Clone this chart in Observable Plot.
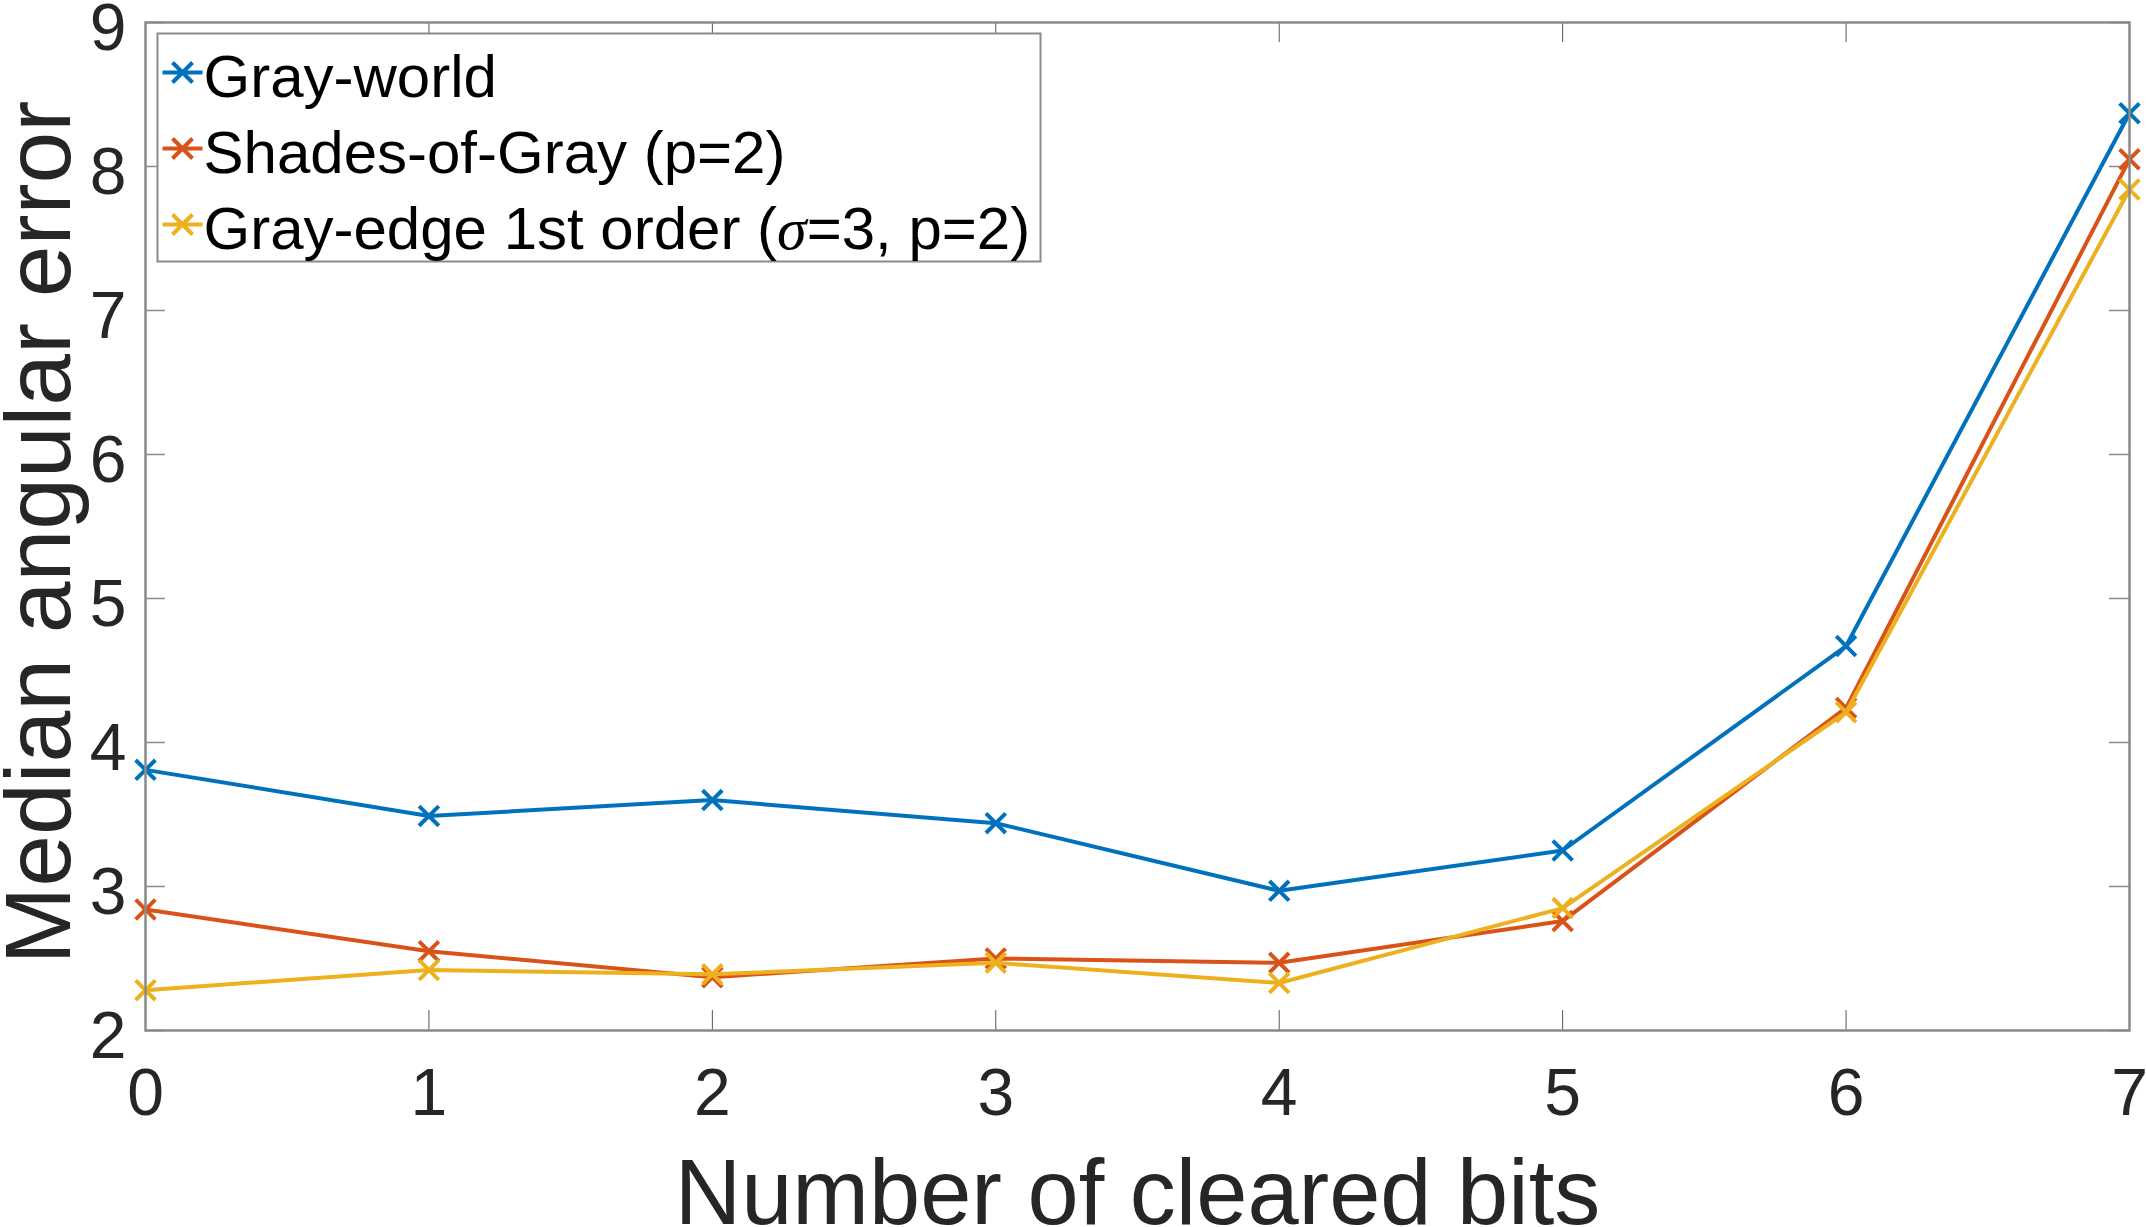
<!DOCTYPE html>
<html>
<head>
<meta charset="utf-8">
<script src="https://cdn.jsdelivr.net/npm/d3@7"></script>
<script src="https://cdn.jsdelivr.net/npm/@observablehq/plot@0.6"></script>
<style>
  html, body { margin: 0; padding: 0; background: #fff; }
  #chart svg { display: block; }
</style>
</head>
<body>
<div id="chart"></div>
<script>
// ---- data ----
const bits = [0, 1, 2, 3, 4, 5, 6, 7];
const xTicks = [0, 1, 2, 3, 4, 5, 6, 7];
const yTicks = [2, 3, 4, 5, 6, 7, 8, 9];
const seriesNames = ["Gray-world", "Shades-of-Gray (p=2)", "Gray-edge 1st order (σ=3, p=2)"];
const grayWorld = [3.81, 3.49, 3.60, 3.44, 2.97, 3.25, 4.67, 8.37];
const shadesOfGray = [2.84, 2.55, 2.37, 2.50, 2.47, 2.76, 4.24, 8.05];
const grayEdge = [2.28, 2.42, 2.39, 2.47, 2.33, 2.85, 4.21, 7.84];
const seriesColors = ["#0072BD", "#D95319", "#EDB120"];
const xLabel = "Number of cleared bits";
const yLabel = "Median angular error";

const seriesValues = [grayWorld, shadesOfGray, grayEdge];
const table = seriesNames.flatMap((name, s) =>
  bits.map((b, i) => ({series: name, bits: b, value: seriesValues[s][i]}))
);

// ---- layout ----
const W = 2146, H = 1227;
const mL = 145, mR = 17, mT = 22, mB = 197;
const plotW = W - mL - mR, plotH = H - mT - mB;
const tickLen = 20;
const font = "'Liberation Sans', Arial, Helvetica, sans-serif";
const axisGray = "#8a8a8a";
const textDark = "#262626";
const intFmt = d3.format("d");

const legendSymbol = {
  draw(ctx) {
    ctx.moveTo(-20, 0); ctx.lineTo(20, 0);
    ctx.moveTo(-10, -10); ctx.lineTo(10, 10);
    ctx.moveTo(-10, 10); ctx.lineTo(10, -10);
  }
};

const seriesMarks = seriesNames.flatMap((name) => {
  const rows = table.filter(d => d.series === name);
  return [
    Plot.line(rows, {x: "bits", y: "value", stroke: "series", strokeWidth: 4}),
    Plot.dot(rows, {x: "bits", y: "value", stroke: "series", symbol: "times", r: 9, strokeWidth: 4})
  ];
});

const legendMarks = seriesNames.flatMap((name, i) => [
  Plot.dot([name], {frameAnchor: "top-left", dx: 37, dy: 50 + i * 76, stroke: seriesColors[i], symbol: legendSymbol, strokeWidth: 4}),
  Plot.text([name], {frameAnchor: "top-left", dx: 58, dy: 32 + i * 76, text: d => d, textAnchor: "start", lineAnchor: "top", fontSize: 60, fill: "#000"})
]);

const chart = Plot.plot({
  width: W,
  height: H,
  marginLeft: mL,
  marginRight: mR,
  marginTop: mT,
  marginBottom: mB,
  style: {fontFamily: font, background: "#fff", overflow: "visible"},
  x: {domain: [0, 7], label: null},
  y: {domain: [2, 9], label: null},
  color: {domain: seriesNames, range: seriesColors},
  marks: [
    // inside ticks on all four sides
    Plot.tickY(yTicks, {y: d => d, stroke: axisGray, strokeWidth: 1.5, insetRight: plotW - tickLen}),
    Plot.tickY(yTicks, {y: d => d, stroke: axisGray, strokeWidth: 1.5, insetLeft: plotW - tickLen}),
    Plot.tickX(xTicks, {x: d => d, stroke: "#555", strokeWidth: 1, insetTop: plotH - tickLen}),
    Plot.tickX(xTicks, {x: d => d, stroke: "#555", strokeWidth: 1, insetBottom: plotH - tickLen}),
    // tick labels
    Plot.axisY(yTicks, {tickSize: 0, tickPadding: 19, fontSize: 66, fill: textDark, dy: 6, label: null, tickFormat: intFmt}),
    Plot.axisX(xTicks, {tickSize: 0, tickPadding: 38, fontSize: 66, fill: textDark, label: null, tickFormat: intFmt}),
    // axis titles
    Plot.text([yLabel], {frameAnchor: "left", dx: -142, dy: 6, rotate: -90, text: d => d, textAnchor: "middle", lineAnchor: "top", fontSize: 93, fill: textDark}),
    Plot.text([xLabel], {frameAnchor: "bottom", dy: 128, text: d => d, textAnchor: "middle", lineAnchor: "top", fontSize: 92, fill: textDark}),
    // data
    ...seriesMarks,
    // axes box
    Plot.frame({stroke: axisGray, strokeWidth: 2.5}),
    // legend
    Plot.frame({fill: "#fff", stroke: axisGray, strokeWidth: 2, insetLeft: 12, insetTop: 11, insetRight: 2129 - 1040, insetBottom: 1030 - 261}),
    ...legendMarks
  ]
});

// Render sigma in italic serif like the original
chart.querySelectorAll("text").forEach(t => {
  const s = t.textContent;
  if (s.includes("σ") && t.querySelectorAll("tspan").length <= 1) {
    const target = t.querySelector("tspan") || t;
    const [before, after] = s.split("σ");
    target.textContent = "";
    const ns = "http://www.w3.org/2000/svg";
    const a = document.createElementNS(ns, "tspan"); a.textContent = before;
    const b = document.createElementNS(ns, "tspan"); b.textContent = "σ";
    b.setAttribute("font-family", "'Liberation Serif', 'Times New Roman', serif");
    b.setAttribute("font-style", "italic");
    const c = document.createElementNS(ns, "tspan"); c.textContent = after;
    target.append(a, b, c);
  }
});

document.getElementById("chart").append(chart);
</script>
</body>
</html>
